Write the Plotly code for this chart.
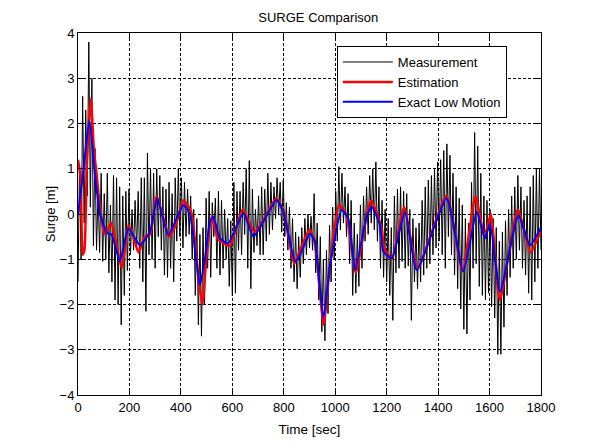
import numpy as np
import plotly.graph_objects as go

# ---- Measurement (black), sampled every 6 s from 0 to 1800 s ----
meas_y = [
    -1.5, 1.1, -1.0, 2.6, -0.2, 2.3, 0.4, 3.8, 0.15, 3.0, -0.7, 1.45, -0.8, 0.5, -0.85, 0.9, -1.05,
    0.45, -1.0, 0.9, -1.3, 0.2, -1.5, 0.85, -1.9, 0.8, -2.0, 0.6, -2.45, 0.4, -1.8, 0.5, -1.25, 0.55,
    -0.9, 0.1, -0.8, 0.3, -0.8, 0.5, -1.2, 0.8, -1.5, 0.8, -2.15, 1.35, -0.9, 1.0, -1.0, 0.9, -1.2,
    1.0, -0.5, 0.85, -0.8, 0.6, -1.35, 0.55, -1.4, 0.7, -1.2, 0.45, -1.5, 0.8, -0.6, 1.0, -0.5, 0.8,
    -0.75, 0.7, -0.5, 0.55, -0.45, 0.4, -1.0, 0.1, -1.8, -0.1, -2.45, -0.45, -2.7, -0.3, -2.0, 0.35, -1.2,
    0.5, -1.4, 0.25, -0.5, 0.35, -1.2, 0.5, -1.35, 0.3, -1.2, 0.1, -1.0, -0.1, -1.6, -0.15, -1.8, 0.7,
    -1.75, 0.5, -0.8, 0.5, -0.9, 0.7, -0.45, 1.0, -1.2, 1.18, -1.65, 0.55, -0.85, 0.1, -0.7, 0.4, -0.9,
    0.6, -0.9, 0.55, -0.6, 0.9, -0.45, 0.7, -0.35, 0.6, -0.1, 0.8, 0.0, 0.7, -0.4, 0.75, -0.5, 0.25,
    -0.8, 0.15, -1.2, -0.1, -1.5, -0.4, -1.65, -0.5, -1.4, -0.3, -1.1, -0.1, -0.9, 0.0, -0.75, -0.05, -0.8,
    0.45, -1.3, -0.2, -1.9, -0.5, -2.6, -1.0, -2.8, -0.8, -2.2, -0.25, -1.5, 0.15, -1.0, 0.5, -0.6, 1.05,
    -0.35, 0.9, -0.2, 0.6, -0.5, 0.45, -1.1, 0.3, -1.8, -0.2, -1.75, -0.45, -1.6, 0.2, -1.2, 0.4, -0.6,
    0.6, -0.45, 0.85, -0.2, 1.0, -0.35, 1.15, -0.6, 0.6, -1.2, 0.3, -1.4, 0.1, -1.5, -0.1, -1.8, -0.3,
    -2.35, 0.4, -1.3, 0.55, -1.2, 0.6, -1.05, 0.5, -1.2, 0.45, -1.15, 0.1, -2.35, -0.1, -1.5, -0.3, -1.65,
    -0.2, -1.5, 0.3, -1.35, 0.6, -1.2, 0.75, -1.1, 0.85, -0.9, 1.0, -0.75, 1.15, -0.6, 1.2, -0.9, 1.4,
    -1.2, 1.55, -0.5, 1.3, -0.9, 0.9, -1.35, 0.6, -1.65, 0.35, -2.1, 0.2, -2.55, -0.1, -2.65, -0.2, -1.9,
    0.7, -1.2, 1.8, -1.1, 1.5, -1.6, 0.9, -1.8, 0.4, -1.9, 0.3, -1.75, 0.1, -2.05, -0.1, -2.3, -0.3,
    -3.1, -0.6, -3.1, -0.4, -2.5, -0.15, -1.8, 0.1, -1.4, 0.4, -1.2, 0.6, -1.0, 0.85, -0.8, 0.6, -1.2,
    0.3, -1.35, 0.4, -1.75, 0.6, -1.9, 0.85, -1.5, 1.0, -1.2, 1.0, -0.8,
]
meas_t = np.arange(0, 6 * len(meas_y), 6)

# ---- Estimation (red) ----
est_t = [0, 10, 18, 25, 35, 50, 62, 72, 88, 105, 118, 130, 145, 170, 196, 215, 235, 260, 280, 305,
         330, 355, 380, 410, 440, 470, 484, 500, 520, 545, 590, 640, 685, 720, 770, 800, 840, 860,
         900, 920, 955, 980, 1015, 1045, 1080, 1125, 1140, 1180, 1190, 1220, 1268, 1320, 1432, 1495,
         1545, 1580, 1605, 1640, 1710, 1760, 1790, 1800]
est_y = [1.2, 0.8, -0.9, -0.8, 1.2, 2.55, 1.4, 0.9, 0.0, -0.45, -0.3, -0.2, -0.55, -1.2, -0.25, -0.5,
         -0.85, -0.5, -0.45, 0.4, -0.05, -0.5, -0.25, 0.3, 0.05, -1.5, -2.0, -0.9, -0.05, -0.55, -0.7,
         0.1, -0.4, -0.15, 0.35, 0.05, -1.1, -0.85, -0.35, -0.6, -2.45, -1.1, 0.2, -0.05, -1.3, 0.05,
         0.3, -0.3, -0.75, -1.0, 0.15, -1.2, 0.4, -1.25, 0.4, -0.5, 0.0, -1.9, 0.1, -0.85, -0.5, -0.4]

# ---- Exact low motion (blue) ----
low_t = [0, 20, 44, 66, 86, 112, 131, 163, 196, 241, 280, 308, 351, 410, 435, 474, 494, 513, 526,
         552, 584, 643, 682, 720, 772, 798, 844, 863, 902, 921, 954, 980, 1025, 1051, 1077, 1122,
         1142, 1174, 1187, 1220, 1271, 1317, 1433, 1498, 1550, 1582, 1602, 1641, 1712, 1757, 1800]
low_y = [0.0, 0.9, 2.08, 0.86, 0.0, -0.42, -0.46, -1.05, -0.32, -0.69, -0.39, 0.35, -0.46, 0.2, 0.0,
         -1.57, -0.98, -0.17, -0.06, -0.54, -0.65, 0.02, -0.5, -0.17, 0.31, 0.05, -1.05, -0.91, -0.43,
         -0.61, -2.3, -1.13, 0.09, -0.1, -1.24, -0.06, 0.16, -0.24, -0.83, -0.98, 0.05, -1.24, 0.35,
         -1.27, 0.05, -0.54, -0.21, -1.72, -0.02, -0.69, -0.3]

x_ticks = [0, 200, 400, 600, 800, 1000, 1200, 1400, 1600, 1800]
y_ticks = [-4, -3, -2, -1, 0, 1, 2, 3, 4]

FONT = "Liberation Sans, Arial, sans-serif"

fig = go.Figure()
fig.add_trace(go.Scatter(x=meas_t, y=meas_y, mode="lines", name="Measurement",
                         line=dict(color="black", width=1)))
fig.add_trace(go.Scatter(x=est_t, y=est_y, mode="lines", name="Estimation",
                         line=dict(color="#ff0000", width=2.5, shape="spline", smoothing=0.5)))
fig.add_trace(go.Scatter(x=low_t, y=low_y, mode="lines", name="Exact Low Motion",
                         line=dict(color="#0000ff", width=2, shape="spline", smoothing=0.5)))

axis_common = dict(
    showline=True, linecolor="black", linewidth=1, mirror="ticks",
    ticks="inside", ticklen=5, tickcolor="black",
    showgrid=True, gridcolor="black", gridwidth=1, griddash="3px,2px",
    zeroline=False, tickfont=dict(family=FONT, size=13, color="black"),
)

fig.update_layout(
    width=599, height=448,
    margin=dict(l=70, r=66, t=25, b=61),
    paper_bgcolor="white", plot_bgcolor="white",
    title=dict(text="SURGE Comparison", x=0.518, xanchor="center", y=0.978, yanchor="middle",
               font=dict(family=FONT, size=13, color="black")),
    xaxis=dict(range=[0, 1800], tickvals=x_ticks,
               title=dict(text="Time [sec]", standoff=10, font=dict(family=FONT, size=13.5, color="black")),
               **axis_common),
    yaxis=dict(range=[-4, 4], tickvals=y_ticks,
               title=dict(text="Surge [m]", standoff=1, font=dict(family=FONT, size=13, color="black")),
               **axis_common),
    legend=dict(x=0.559, y=0.964, xanchor="left", yanchor="top",
                bgcolor="white", bordercolor="black", borderwidth=1,
                font=dict(family=FONT, size=13, color="black"),
                tracegroupgap=0, itemwidth=50),
    showlegend=True,
)

fig.write_html("out.html")
